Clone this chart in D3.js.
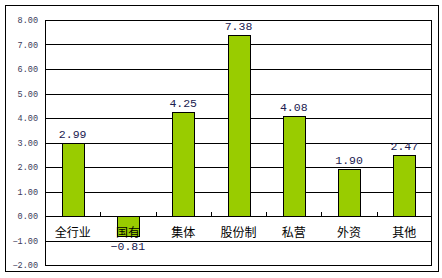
<!DOCTYPE html>
<html><head><meta charset="utf-8">
<script src="https://cdn.jsdelivr.net/npm/d3@7"></script>
<style>body{margin:0;background:#fff}svg{display:block}</style>
</head><body>
<script>
const categories = ["全行业","国有","集体","股份制","私营","外资","其他"];
const values = [2.99, -0.81, 4.25, 7.38, 4.08, 1.90, 2.47];
const yTicks = [-2,-1,0,1,2,3,4,5,6,7,8];

const W = 442, H = 278;
const m = {left:45, right:10, top:20, bottom:13};
const svg = d3.select("body").append("svg").attr("width",W).attr("height",H);

svg.append("rect").attr("x",5.5).attr("y",5.5).attr("width",433).attr("height",266)
  .attr("fill","#fff").attr("stroke","#000").attr("stroke-width",1);

const x = d3.scaleBand().domain(categories).range([m.left, W-m.right]).paddingInner(0.6).paddingOuter(0.3);
const xb = d3.scaleBand().domain(categories).range([m.left, W-m.right]);
const y = d3.scaleLinear().domain([-2,8]).range([H-m.bottom, m.top]);

const g = svg.append("g");
// grid
g.selectAll("line.grid").data(yTicks).join("line")
  .attr("x1",m.left).attr("x2",W-m.right)
  .attr("y1",d=>Math.round(y(d))+0.5).attr("y2",d=>Math.round(y(d))+0.5)
  .attr("stroke","#000").attr("stroke-width",1);
// frame
g.append("rect").attr("x",m.left+0.5).attr("y",Math.round(y(8))+0.5)
  .attr("width",W-m.right-m.left-1).attr("height",Math.round(y(-2))-Math.round(y(8)))
  .attr("fill","none").attr("stroke","#000");

// y labels
g.selectAll("text.yl").data(yTicks).join("text")
  .attr("x",38).attr("y",d=>y(d)+3)
  .attr("text-anchor","end").attr("font-family","Liberation Mono, monospace")
  .attr("font-size",8.5).attr("fill","#3a3a5a")
  .text(d=>d3.format(".2f")(d));

// bars
g.selectAll("rect.bar").data(values).join("rect")
  .attr("x",(d,i)=>Math.round(xb(categories[i])+xb.bandwidth()/2-11)+0.5)
  .attr("width",22)
  .attr("y",d=>Math.round(y(Math.max(0,d)))+0.5)
  .attr("height",d=>Math.round(Math.abs(y(d)-y(0))))
  .attr("fill","#99cc00").attr("stroke","#000").attr("stroke-width",1);

// category ticks on zero line
const bounds = categories.slice(1).map(c=>xb(c));
g.selectAll("line.tk").data(bounds).join("line")
  .attr("x1",d=>Math.round(d)+0.5).attr("x2",d=>Math.round(d)+0.5)
  .attr("y1",Math.round(y(0))-4).attr("y2",Math.round(y(0)))
  .attr("stroke","#000");

// category labels
g.selectAll("text.cl").data(categories).join("text")
  .attr("x",d=>xb(d)+xb.bandwidth()/2).attr("y",y(0)+21)
  .attr("text-anchor","middle").attr("font-family","Noto Sans CJK SC, sans-serif")
  .attr("font-size",12).attr("fill","#000").text(d=>d);

// value labels
g.selectAll("text.vl").data(values).join("text")
  .attr("x",(d,i)=>xb(categories[i])+xb.bandwidth()/2)
  .attr("y",d=> d>=0 ? y(d)-5 : y(d)+14)
  .attr("text-anchor","middle").attr("font-family","Liberation Mono, monospace")
  .attr("font-size",11.5).attr("fill","#202050")
  .text(d=>d3.format(".2f")(d));
</script>
</body></html>
